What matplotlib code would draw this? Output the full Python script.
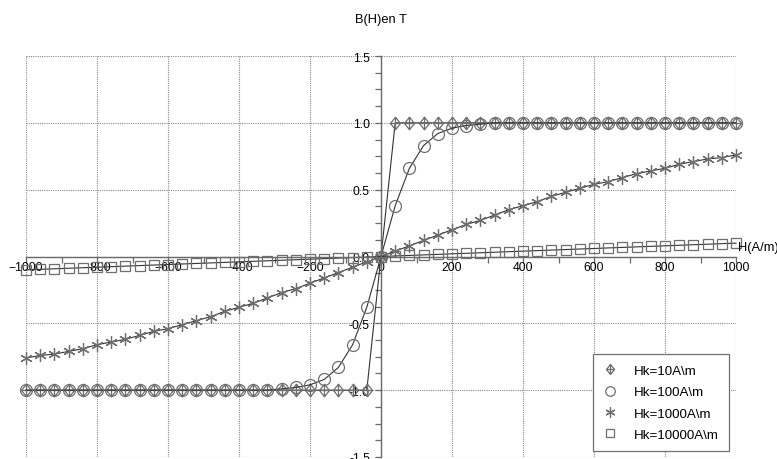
import numpy as np
import matplotlib
matplotlib.use("Agg")
import matplotlib.pyplot as plt
from matplotlib.path import Path
from matplotlib.ticker import MultipleLocator, FormatStrFormatter

plt.rcParams['font.family'] = ['Liberation Sans', 'DejaVu Sans']

# H values (A/m)
H = [-1000, -960, -920, -880, -840, -800, -760, -720, -680, -640,
     -600, -560, -520, -480, -440, -400, -360, -320, -280, -240,
     -200, -160, -120, -80, -40, 0, 40, 80, 120, 160,
     200, 240, 280, 320, 360, 400, 440, 480, 520, 560,
     600, 640, 680, 720, 760, 800, 840, 880, 920, 960, 1000]

# B(H) in T for each Hk
B_hk10 = [-1.0] * 25 + [0.0] + [1.0] * 25

B_hk100 = [-1.00, -1.00, -1.00, -1.00, -1.00, -1.00, -1.00, -1.00, -1.00,
           -1.00, -1.00, -1.00, -1.00, -1.00, -1.00, -1.00, -1.00, -1.00,
           -0.99, -0.98, -0.96, -0.92, -0.83, -0.66, -0.38, 0.00,
           0.38, 0.66, 0.83, 0.92, 0.96, 0.98, 0.99,
           1.00, 1.00, 1.00, 1.00, 1.00, 1.00, 1.00, 1.00, 1.00, 1.00,
           1.00, 1.00, 1.00, 1.00, 1.00, 1.00, 1.00, 1.00]

B_hk1000 = [-0.76, -0.74, -0.73, -0.71, -0.69, -0.66, -0.64, -0.62, -0.59,
            -0.56, -0.54, -0.51, -0.48, -0.45, -0.41, -0.38, -0.35, -0.31,
            -0.27, -0.24, -0.20, -0.16, -0.12, -0.08, -0.04, 0.00,
            0.04, 0.08, 0.12, 0.16, 0.20, 0.24, 0.27, 0.31, 0.35, 0.38,
            0.41, 0.45, 0.48, 0.51, 0.54, 0.56, 0.59, 0.62, 0.64, 0.66,
            0.69, 0.71, 0.73, 0.74, 0.76]

B_hk10000 = [-0.100, -0.096, -0.092, -0.088, -0.084, -0.080, -0.076, -0.072,
             -0.068, -0.064, -0.060, -0.056, -0.052, -0.048, -0.044, -0.040,
             -0.036, -0.032, -0.028, -0.024, -0.020, -0.016, -0.012, -0.008,
             -0.004, 0.000, 0.004, 0.008, 0.012, 0.016, 0.020, 0.024, 0.028,
             0.032, 0.036, 0.040, 0.044, 0.048, 0.052, 0.056, 0.060, 0.064,
             0.068, 0.072, 0.076, 0.080, 0.084, 0.088, 0.092, 0.096, 0.100]

labels = ["Hk=10A\\m", "Hk=100A\\m", "Hk=1000A\\m", "Hk=10000A\\m"]

# diamond with a cross inside
diamond_cross = Path(
    [(0, 1), (0.8, 0), (0, -1), (-0.8, 0), (0, 1),
     (0, 1), (0, -1), (-0.8, 0), (0.8, 0)],
    [Path.MOVETO, Path.LINETO, Path.LINETO, Path.LINETO, Path.CLOSEPOLY,
     Path.MOVETO, Path.LINETO, Path.MOVETO, Path.LINETO])

line_col = "#333333"
mk_col = "#6e6e6e"

fig = plt.figure(figsize=(7.77, 4.60), dpi=100)
ax = fig.add_axes([26 / 777, 1 - 458 / 460, 710 / 777, 401 / 460])

series = [
    (B_hk10, dict(marker=diamond_cross, markersize=9)),
    (B_hk100, dict(marker="o", markersize=8.6)),
    (B_hk1000, dict(marker=(6, 2, 0), markersize=9)),
    (B_hk10000, dict(marker="s", markersize=7.6)),
]
for (b, style), lab in zip(series, labels):
    ax.plot(H, b, color=line_col, lw=0.8, markerfacecolor="none",
            markeredgecolor=mk_col, markeredgewidth=0.9, label=lab,
            clip_on=False, **style)

ax.set_xlim(-1000, 1000)
ax.set_ylim(-1.5, 1.5)

# axes crossing at the origin
for s in ("top", "right"):
    ax.spines[s].set_visible(False)
ax.spines["left"].set_position(("data", 0))
ax.spines["bottom"].set_position(("data", 0))
for s in ("left", "bottom"):
    ax.spines[s].set_color("#6a6a6a")
    ax.spines[s].set_linewidth(1.0)

ax.xaxis.set_major_locator(MultipleLocator(200))
ax.xaxis.set_minor_locator(MultipleLocator(100))
ax.yaxis.set_major_locator(MultipleLocator(0.5))
ax.yaxis.set_minor_locator(MultipleLocator(0.125))
ax.yaxis.set_major_formatter(FormatStrFormatter("%.1f"))

ax.tick_params(axis="x", which="both", direction="out", length=4.5,
               width=0.9, color="#6a6a6a", pad=-1.5, labelsize=8.7)
ax.tick_params(axis="y", which="both", direction="out", length=4.5,
               width=0.9, color="#6a6a6a", pad=3.5, labelsize=8.7)

ax.grid(True, which="major", linestyle=(0, (1, 1)), color="#8a8a8a", lw=0.8)
ax.set_axisbelow(True)

fig.text(381 / 777, 1 - 20 / 460, "B(H)en T", ha="center", va="center",
         fontsize=9.3)
# axis name just above the right end of the H axis
ax.text(1.003, 0.5 + 9 / 401, "H(A/m)", transform=ax.transAxes, ha="left",
        va="center", fontsize=9.3)

leg = ax.legend(loc="lower right", bbox_to_anchor=(0.990, 0.015),
                fontsize=9.6, frameon=True, fancybox=False, framealpha=1,
                edgecolor="#707070", handlelength=1.0, handletextpad=1.3,
                borderpad=0.75, labelspacing=0.68, borderaxespad=0,
                markerscale=0.8)
for h in leg.legend_handles:
    h.set_linestyle("none")
leg.get_frame().set_linewidth(0.9)

fig.savefig("out.png", dpi=100)
